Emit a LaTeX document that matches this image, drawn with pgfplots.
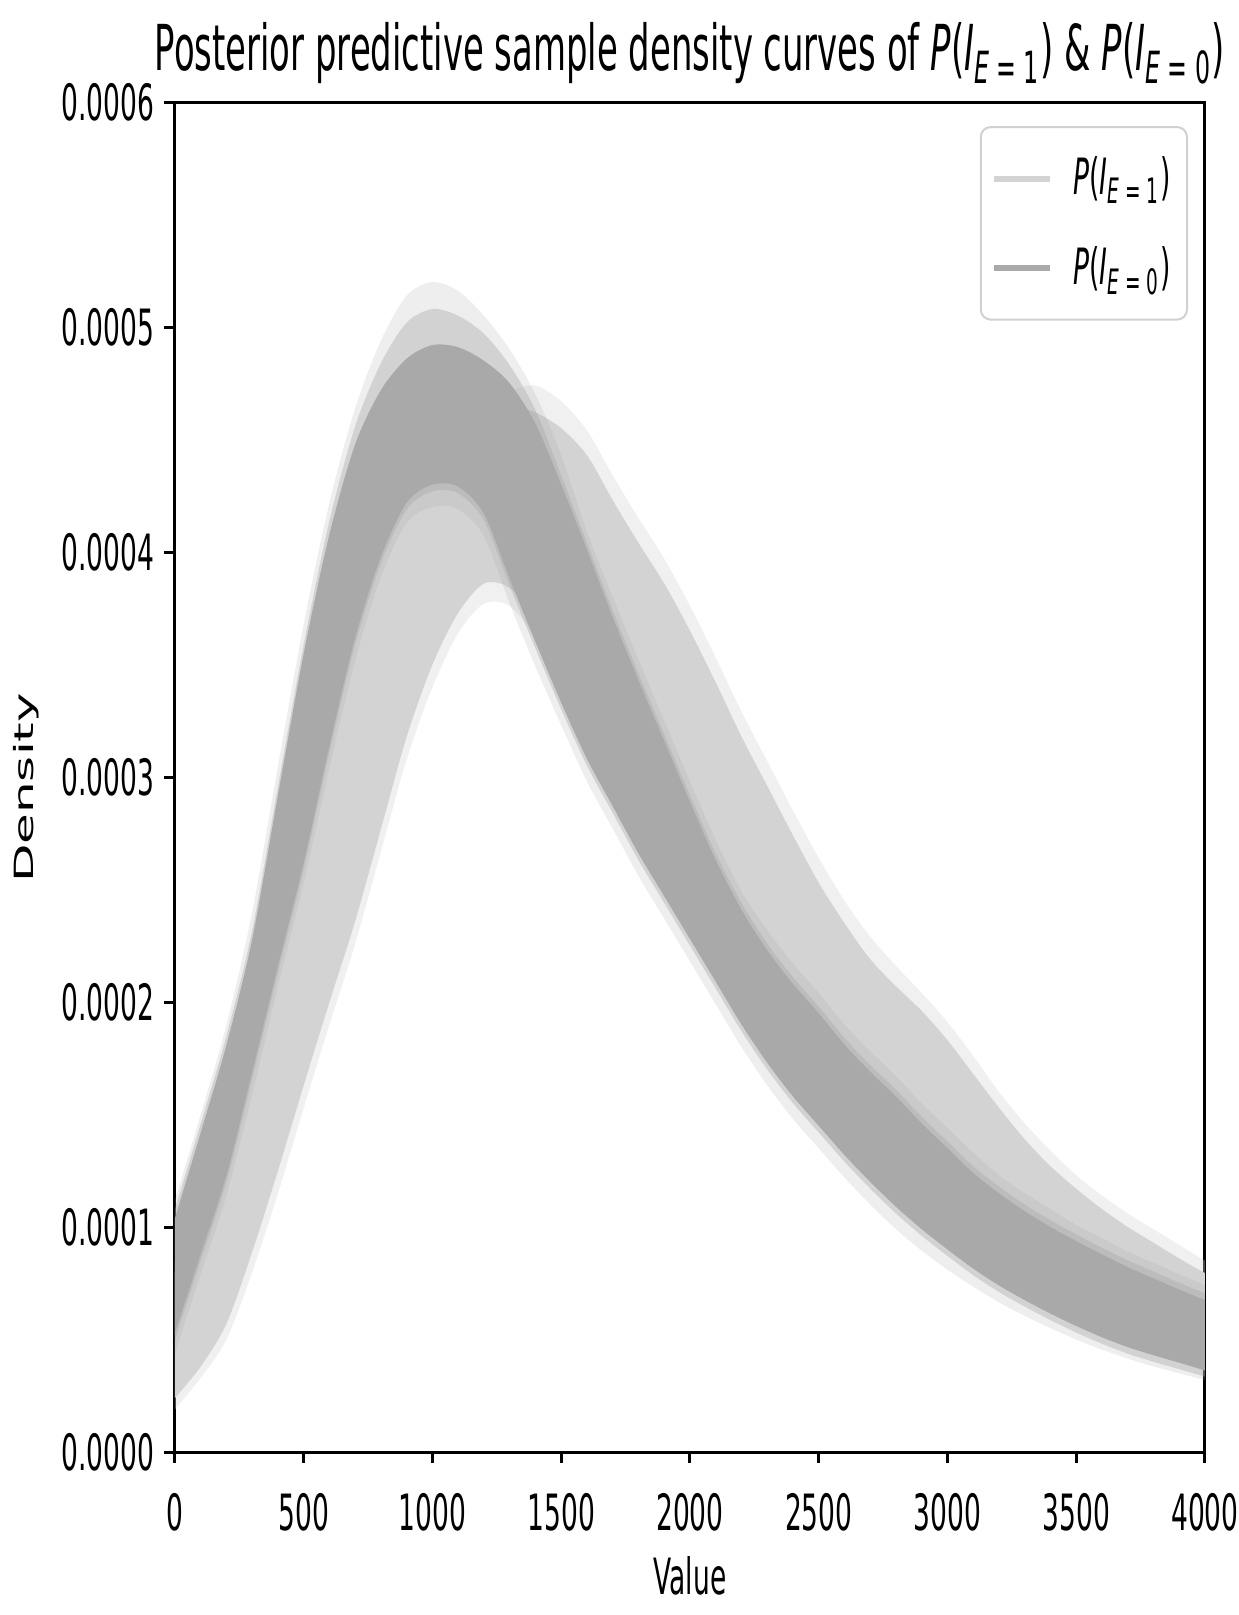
\documentclass[border=0pt]{standalone}
\usepackage{fontspec}
\setmainfont{DejaVu Sans}[FakeStretch=0.53]
\newfontfamily\titlefont{DejaVu Sans}[FakeStretch=0.535]
\newfontfamily\plainfont{DejaVu Sans}
\usepackage{pgfplots}
\pgfplotsset{compat=1.18}
\definecolor{lightc}{HTML}{D3D3D3}
\definecolor{darkc}{HTML}{A9A9A9}
\newcommand\PI[1]{\textit{P}(\textit{I}\textsubscript{\textit{E}\,=\,#1})}
\begin{document}
\begin{tikzpicture}
\useasboundingbox (-52.5pt,-48.9pt) rectangle (319.2pt,435.6pt);
\begin{axis}[
  scale only axis, width=309pt, height=405pt,
  xmin=0, xmax=4000, ymin=0, ymax=0.0006,
  xtick={0,500,1000,1500,2000,2500,3000,3500,4000},
  ytick={0,0.0001,0.0002,0.0003,0.0004,0.0005,0.0006},
  scaled y ticks=false,
  /pgf/number format/assume math mode=true,
  xticklabel style={/pgf/number format/1000 sep={}, anchor=base, yshift=-20.3pt},
  yticklabel style={/pgf/number format/.cd, fixed, fixed zerofill, precision=4, /tikz/.cd, anchor=east, inner sep=0pt, xshift=-2.8pt},
  tick label style={font=\fontsize{15}{18}\selectfont},
  axis line style={line width=0.9pt},
  every tick/.style={black, line width=0.9pt},
  major tick length=3.2pt,
  tick align=outside,
  xtick pos=left, ytick pos=left,
  title={Posterior predictive sample density curves of \PI{1} \& \PI{0}},
  title style={font=\titlefont\fontsize{19}{23}\selectfont, anchor=base, yshift=3.4pt},
  xlabel={Value},
  xlabel style={font=\fontsize{15}{18}\selectfont, at={(axis description cs:0.5,0)}, anchor=base, yshift=-42.6pt},
  ylabel={\scalebox{1}[0.53]{\plainfont\fontsize{15}{18}\selectfont Density}},
  ylabel style={at={(axis description cs:-0.1447,0.4919)}, anchor=center},
  legend style={at={(axis description cs:0.9835,0.9822)}, anchor=north east, draw=black!18, line width=0.6pt, rounded corners=3pt, fill=white, font=\fontsize{15}{18}\selectfont, inner xsep=3pt, inner ysep=7pt, row sep=10pt, /tikz/every odd column/.append style={column sep=4pt}},
  legend cell align=left,
  legend image code/.code={\draw[#1] (0pt,0pt) -- (17pt,0pt);},
  every axis plot/.append style={smooth, tension=0.5, draw=none, forget plot},
]
% outer (faint) spread of the E=1 curves: upper envelope, then lower envelope backwards
\addplot[fill=lightc, fill opacity=0.35] coordinates {
(0,0.000085)(100,0.000115)(200,0.000155)(300,0.000205)(400,0.000255)(500,0.000305)(600,0.000360)(700,0.000405)(800,0.000435)(900,0.000453)(1000,0.000463)(1100,0.000468)(1200,0.000471)(1300,0.000472)(1400,0.000474)(1500,0.000467)(1600,0.000454)(1700,0.000434)(1800,0.000415)(1900,0.000397)(2000,0.000376)(2100,0.000353)(2200,0.000329)(2300,0.000307)(2400,0.000285)(2500,0.000264)(2600,0.000245)(2700,0.000229)(2800,0.000216)(2900,0.000204)(3000,0.000191)(3100,0.000176)(3200,0.000160)(3300,0.000146)(3400,0.000134)(3500,0.000123)(3600,0.000114)(3700,0.000106)(3800,0.0000990)(3900,0.0000920)(4000,0.0000850)(4000,0.0000850)
(4000,0.0000462)(4000,0.0000462)(3900,0.0000497)(3800,0.0000530)(3700,0.0000566)(3600,0.0000610)(3500,0.0000660)(3400,0.0000715)(3300,0.0000775)(3200,0.0000840)(3100,0.0000915)(3000,0.000100)(2900,0.000109)(2800,0.000119)(2700,0.000130)(2600,0.000142)(2500,0.000155)(2400,0.000168)(2300,0.000183)(2200,0.000200)(2100,0.000219)(2000,0.000238)(1900,0.000257)(1800,0.000276)(1700,0.000297)(1600,0.000318)(1500,0.000343)(1400,0.000362)(1300,0.000376)(1200,0.000377)(1100,0.000364)(1000,0.000340)(900,0.000308)(800,0.000267)(700,0.000226)(600,0.000190)(500,0.000153)(400,0.000115)(300,0.000080)(200,0.000050)(100,0.000033)(0,0.000019)
} -- cycle;
% dense band of the E=1 curves
\addplot[fill=lightc] coordinates {
(0,0.000080)(100,0.000110)(200,0.000150)(300,0.000200)(400,0.000250)(500,0.000300)(600,0.000355)(700,0.000400)(800,0.000430)(900,0.000448)(1000,0.000458)(1100,0.000463)(1200,0.000465)(1300,0.000465)(1400,0.000462)(1500,0.000455)(1600,0.000443)(1700,0.000423)(1800,0.000404)(1900,0.000386)(2000,0.000365)(2100,0.000342)(2200,0.000318)(2300,0.000296)(2400,0.000274)(2500,0.000253)(2600,0.000235)(2700,0.000219)(2800,0.000207)(2900,0.000196)(3000,0.000183)(3100,0.000168)(3200,0.000153)(3300,0.000139)(3400,0.000127)(3500,0.000117)(3600,0.000108)(3700,0.000100)(3800,0.0000930)(3900,0.0000860)(4000,0.0000795)(4000,0.0000795)
(4000,0.0000462)(4000,0.0000462)(3900,0.0000497)(3800,0.0000530)(3700,0.0000566)(3600,0.0000610)(3500,0.0000660)(3400,0.0000715)(3300,0.0000775)(3200,0.0000840)(3100,0.0000915)(3000,0.000100)(2900,0.000109)(2800,0.000119)(2700,0.000130)(2600,0.000142)(2500,0.000155)(2400,0.000168)(2300,0.000183)(2200,0.000200)(2100,0.000219)(2000,0.000238)(1900,0.000257)(1800,0.000276)(1700,0.000297)(1600,0.000318)(1500,0.000343)(1400,0.000370)(1300,0.000384)(1200,0.000386)(1100,0.000373)(1000,0.000350)(900,0.000318)(800,0.000277)(700,0.000236)(600,0.000200)(500,0.000163)(400,0.000125)(300,0.000089)(200,0.000057)(100,0.000038)(0,0.000024)
} -- cycle;
% outer (faint) spread of the E=0 curves
\addplot[fill=darkc, fill opacity=0.2] coordinates {
(0,0.000112)(100,0.000150)(200,0.000190)(300,0.000240)(400,0.000305)(500,0.000368)(600,0.000422)(700,0.000464)(800,0.000494)(900,0.000514)(1000,0.000520)(1100,0.000516)(1200,0.000505)(1300,0.000490)(1400,0.000470)(1500,0.000443)(1600,0.000409)(1700,0.000380)(1800,0.000352)(1900,0.000325)(2000,0.000298)(2100,0.000272)(2200,0.000249)(2300,0.000232)(2400,0.000217)(2500,0.000204)(2600,0.000190)(2700,0.000178)(2800,0.000167)(2900,0.000155)(3000,0.000144)(3100,0.000133)(3200,0.000123)(3300,0.000115)(3400,0.000108)(3500,0.000101)(3600,0.0000950)(3700,0.0000890)(3800,0.0000840)(3900,0.0000790)(4000,0.0000740)(4000,0.0000740)
(4000,0.0000320)(4000,0.0000320)(3900,0.0000350)(3800,0.0000380)(3700,0.0000415)(3600,0.0000455)(3500,0.0000500)(3400,0.0000550)(3300,0.0000605)(3200,0.0000665)(3100,0.0000735)(3000,0.0000810)(2900,0.0000895)(2800,0.0000990)(2700,0.000110)(2600,0.000122)(2500,0.000135)(2400,0.000148)(2300,0.000163)(2200,0.000180)(2100,0.000199)(2000,0.000218)(1900,0.000237)(1800,0.000256)(1700,0.000277)(1600,0.000298)(1500,0.000323)(1400,0.000349)(1300,0.000377)(1200,0.000407)(1100,0.000419)(1000,0.000420)(900,0.000413)(800,0.000389)(700,0.000352)(600,0.000304)(500,0.000253)(400,0.000207)(300,0.000159)(200,0.000114)(100,0.000079)(0,0.000044)
} -- cycle;
% inner spread of the E=0 curves
\addplot[fill=darkc, fill opacity=0.4] coordinates {
(0,0.000108)(100,0.000146)(200,0.000185)(300,0.000232)(400,0.000296)(500,0.000359)(600,0.000414)(700,0.000456)(800,0.000484)(900,0.000502)(1000,0.000508)(1100,0.000505)(1200,0.000497)(1300,0.000483)(1400,0.000463)(1500,0.000434)(1600,0.000404)(1700,0.000374)(1800,0.000346)(1900,0.000319)(2000,0.000292)(2100,0.000266)(2200,0.000244)(2300,0.000226)(2400,0.000211)(2500,0.000198)(2600,0.000184)(2700,0.000172)(2800,0.000161)(2900,0.000149)(3000,0.000138)(3100,0.000127)(3200,0.000118)(3300,0.000110)(3400,0.000103)(3500,0.0000967)(3600,0.0000908)(3700,0.0000852)(3800,0.0000802)(3900,0.0000752)(4000,0.0000705)(4000,0.0000705)
(4000,0.0000335)(4000,0.0000335)(3900,0.0000368)(3800,0.0000401)(3700,0.0000437)(3600,0.0000481)(3500,0.0000531)(3400,0.0000586)(3300,0.0000646)(3200,0.0000711)(3100,0.0000786)(3000,0.0000871)(2900,0.0000961)(2800,0.000106)(2700,0.000117)(2600,0.000129)(2500,0.000142)(2400,0.000155)(2300,0.000170)(2200,0.000187)(2100,0.000206)(2000,0.000225)(1900,0.000244)(1800,0.000263)(1700,0.000284)(1600,0.000305)(1500,0.000330)(1400,0.000357)(1300,0.000385)(1200,0.000414)(1100,0.000426)(1000,0.000427)(900,0.000419)(800,0.000395)(700,0.000359)(600,0.000311)(500,0.000259)(400,0.000213)(300,0.000166)(200,0.000120)(100,0.000085)(0,0.000050)
} -- cycle;
% dense band of the E=0 curves
\addplot[fill=darkc] coordinates {
(0,0.000104)(100,0.000142)(200,0.000181)(300,0.000228)(400,0.000292)(500,0.000355)(600,0.000408)(700,0.000448)(800,0.000472)(900,0.000486)(1000,0.000492)(1100,0.000491)(1200,0.000485)(1300,0.000475)(1400,0.000457)(1500,0.000430)(1600,0.000401)(1700,0.000371)(1800,0.000343)(1900,0.000316)(2000,0.000289)(2100,0.000263)(2200,0.000241)(2300,0.000223)(2400,0.000208)(2500,0.000195)(2600,0.000181)(2700,0.000169)(2800,0.000158)(2900,0.000146)(3000,0.000135)(3100,0.000124)(3200,0.000115)(3300,0.000107)(3400,0.000100)(3500,0.0000937)(3600,0.0000878)(3700,0.0000822)(3800,0.0000772)(3900,0.0000722)(4000,0.0000675)(4000,0.0000675)
(4000,0.0000362)(4000,0.0000362)(3900,0.0000397)(3800,0.0000430)(3700,0.0000466)(3600,0.0000510)(3500,0.0000560)(3400,0.0000615)(3300,0.0000675)(3200,0.0000740)(3100,0.0000815)(3000,0.0000900)(2900,0.0000990)(2800,0.000109)(2700,0.000120)(2600,0.000132)(2500,0.000145)(2400,0.000158)(2300,0.000173)(2200,0.000190)(2100,0.000209)(2000,0.000228)(1900,0.000247)(1800,0.000266)(1700,0.000287)(1600,0.000308)(1500,0.000333)(1400,0.000360)(1300,0.000388)(1200,0.000417)(1100,0.000429)(1000,0.000430)(900,0.000422)(800,0.000398)(700,0.000362)(600,0.000314)(500,0.000262)(400,0.000216)(300,0.000169)(200,0.000123)(100,0.000088)(0,0.000053)
} -- cycle;
\addlegendimage{lightc, line width=1.8pt, draw}
\addlegendentry{\PI{1}}
\addlegendimage{darkc, line width=1.8pt, draw}
\addlegendentry{\PI{0}}
\end{axis}
\end{tikzpicture}
\end{document}
